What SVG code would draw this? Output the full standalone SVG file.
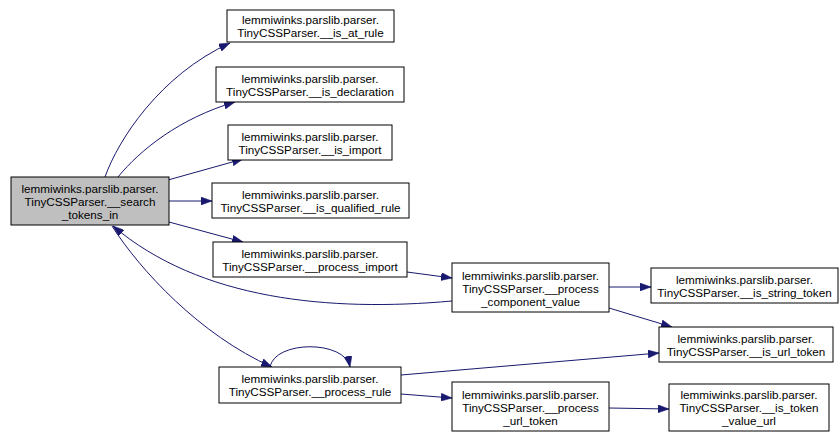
<svg xmlns="http://www.w3.org/2000/svg" width="840" height="432" viewBox="0 0 840 432">
<style>
.node rect{fill:#ffffff;stroke:#000000;stroke-width:1}
.node.root rect{fill:#bfbfbf}
.node text{font-family:"Liberation Sans",Arial,Helvetica,sans-serif;font-size:11.7px;fill:#000000;text-anchor:middle}
.edges path{fill:none;stroke:#191970;stroke-width:1;marker-end:url(#arrow)}
</style>
<defs>
<marker id="arrow" viewBox="0 0 11 8" refX="11" refY="4" markerWidth="11" markerHeight="8" markerUnits="userSpaceOnUse" orient="auto">
<path d="M0,0 L11,4 L0,8 z" fill="#191970" stroke="#191970" stroke-width="0.5"/>
</marker>
</defs>
<rect width="840" height="432" fill="#ffffff"/>
<g class="edges" id="edges">
<path d="M105,177 C118,140 160,75 230,43"/>
<path d="M118,177 C140,150 180,118 235,102"/>
<path d="M168,180 L243,159"/>
<path d="M169,201 L212,201"/>
<path d="M169,222 L243,242"/>
<path d="M452,301 C330,312 200,300 113,226"/>
<path d="M112,226 C140,270 200,335 272,367"/>
<path d="M407,272 L452,278"/>
<path d="M609,287 L651,287"/>
<path d="M609,308 L672,327"/>
<path d="M401,375 L659,353"/>
<path d="M401,394 L452,398"/>
<path d="M270,367 C275,340 345,340 350,367"/>
<path d="M609,408 L669,409"/>
</g>
<g class="node root" id="search_tokens_in">
<rect x="11" y="177" width="158" height="48"/>
<text x="90" y="193">lemmiwinks.parslib.parser.</text>
<text x="90" y="206">TinyCSSParser.__search</text>
<text x="90" y="219">_tokens_in</text>
</g>
<g class="node" id="is_at_rule">
<rect x="227" y="10" width="167" height="32"/>
<text x="310.5" y="24">lemmiwinks.parslib.parser.</text>
<text x="310.5" y="37">TinyCSSParser.__is_at_rule</text>
</g>
<g class="node" id="is_declaration">
<rect x="216" y="67" width="188" height="35"/>
<text x="310" y="82.5">lemmiwinks.parslib.parser.</text>
<text x="310" y="95.5">TinyCSSParser.__is_declaration</text>
</g>
<g class="node" id="is_import">
<rect x="228" y="125" width="164" height="35"/>
<text x="310" y="140.5">lemmiwinks.parslib.parser.</text>
<text x="310" y="153.5">TinyCSSParser.__is_import</text>
</g>
<g class="node" id="is_qualified_rule">
<rect x="212" y="183" width="197" height="35"/>
<text x="310.5" y="198.5">lemmiwinks.parslib.parser.</text>
<text x="310.5" y="211.5">TinyCSSParser.__is_qualified_rule</text>
</g>
<g class="node" id="process_import">
<rect x="213" y="242" width="194" height="35"/>
<text x="310" y="257.5">lemmiwinks.parslib.parser.</text>
<text x="310" y="270.5">TinyCSSParser.__process_import</text>
</g>
<g class="node" id="process_rule">
<rect x="219" y="367" width="182" height="36"/>
<text x="310" y="383">lemmiwinks.parslib.parser.</text>
<text x="310" y="396">TinyCSSParser.__process_rule</text>
</g>
<g class="node" id="process_component_value">
<rect x="452" y="263" width="157" height="49"/>
<text x="530.5" y="279.5">lemmiwinks.parslib.parser.</text>
<text x="530.5" y="292.5">TinyCSSParser.__process</text>
<text x="530.5" y="305.5">_component_value</text>
</g>
<g class="node" id="process_url_token">
<rect x="452" y="382" width="157" height="49"/>
<text x="530.5" y="398.5">lemmiwinks.parslib.parser.</text>
<text x="530.5" y="411.5">TinyCSSParser.__process</text>
<text x="530.5" y="424.5">_url_token</text>
</g>
<g class="node" id="is_string_token">
<rect x="651" y="268" width="187" height="35"/>
<text x="744.5" y="283.5">lemmiwinks.parslib.parser.</text>
<text x="744.5" y="296.5">TinyCSSParser.__is_string_token</text>
</g>
<g class="node" id="is_url_token">
<rect x="659" y="327" width="174" height="35"/>
<text x="746" y="342.5">lemmiwinks.parslib.parser.</text>
<text x="746" y="355.5">TinyCSSParser.__is_url_token</text>
</g>
<g class="node" id="is_token_value_url">
<rect x="669" y="384" width="160" height="47"/>
<text x="749" y="399">lemmiwinks.parslib.parser.</text>
<text x="749" y="412">TinyCSSParser.__is_token</text>
<text x="749" y="425">_value_url</text>
</g>
</svg>
